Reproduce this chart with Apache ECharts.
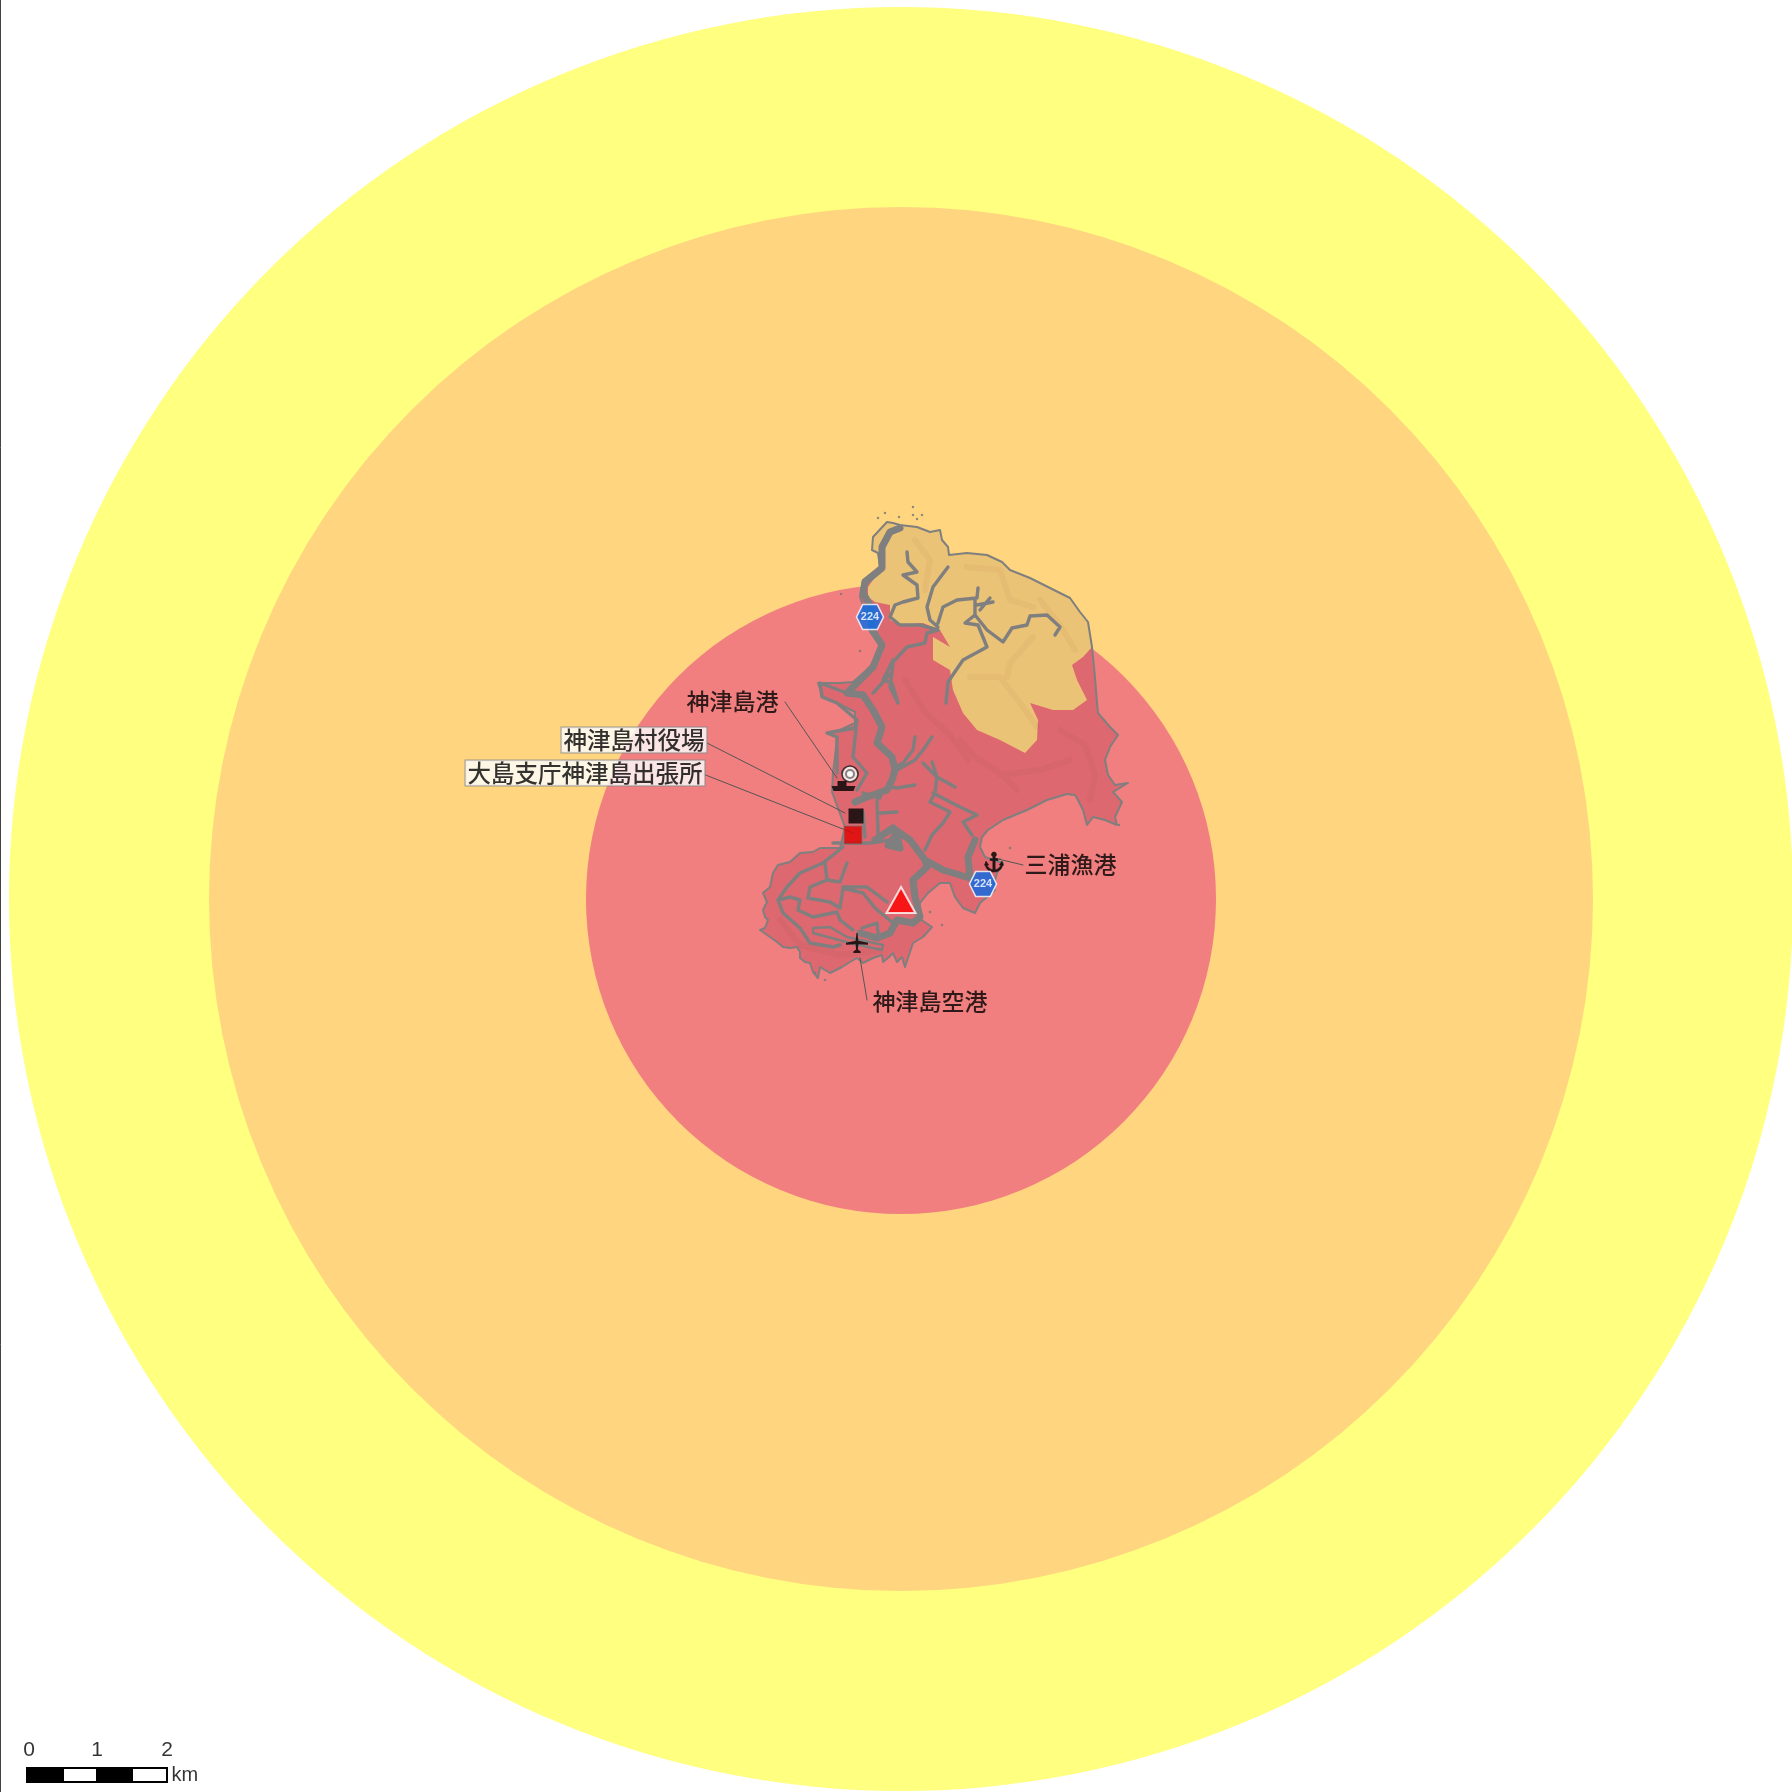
<!DOCTYPE html>
<html>
<head>
<meta charset="utf-8">
<script src="https://cdn.jsdelivr.net/npm/echarts@6/dist/echarts.min.js"></script>
<style>html,body{margin:0;padding:0;background:#fff}</style>
</head>
<body>
<div id="main" style="width:1792px;height:1792px"></div>
<script>
// map coordinates (1 unit = 1 reference pixel, about 69.5 per km)
var crater = [901, 899];
var zoneRadii = [892, 692, 315];

var coastNorth = [[887,522],[893,523],[900,525],[917,527],[930,532],[940,530],[942,540],[948,547],[949,555],[967,553],[987,555],[1002,562],[1010,570],[1030,578],[1050,588],[1070,598],[1080,612],[1088,622],[1092,647]];
var coastEast = [[1095,677],[1097,703],[1098,713],[1110,727],[1118,735],[1110,747],[1105,760],[1108,775],[1115,785],[1128,783],[1113,792],[1122,802],[1115,817],[1117,825],[1105,820],[1093,817],[1087,825],[1083,810],[1078,800],[1075,795],[1067,794],[1047,800],[1027,810],[1003,820],[988,830],[982,837],[980,847],[985,857],[1003,863],[997,873],[993,887],[995,890],[980,903],[975,913],[963,908],[955,897],[950,883],[940,883],[928,893],[920,903],[917,917],[932,927],[923,937],[913,943],[905,967]];
var coastSouth = [[902,957],[897,962],[893,953],[888,958],[883,962],[882,955],[873,958],[863,963],[857,958],[850,962],[842,967],[830,973],[825,970],[820,967],[818,978],[813,972],[810,963],[805,962],[800,958],[800,952],[797,947],[790,948],[783,947],[777,942],[770,937],[760,930],[765,928],[768,920],[765,917],[763,910],[767,902],[763,893],[770,887],[773,873],[778,865],[790,862],[800,853],[813,852],[820,848],[840,848]];
var coastWest = [[845,827],[832,792],[833,773],[835,757],[837,737],[827,733],[840,730],[855,723],[855,712],[837,703],[823,697],[818,683],[840,683],[853,682],[867,670],[870,667],[882,647],[872,630],[860,597],[863,580],[880,567],[878,553],[872,550],[873,537]];
var outerHazardEdge = [[1083,657],[1072,665],[1077,680],[1087,700],[1073,710],[1053,710],[1030,703],[1038,720],[1037,740],[1025,753],[1000,740],[977,730],[963,713],[953,690],[950,670],[933,660],[933,637],[950,647],[940,630],[923,623],[900,625],[890,620],[890,605],[875,602],[868,597],[868,587],[880,570],[878,553],[872,550],[873,537]];

var mainRoads = [
  [[900,528],[890,532],[882,547],[882,568],[865,582],[863,593],[870,605],[872,630],[882,645],[873,667],[857,683],[847,693],[863,695],[873,710],[882,727],[877,743],[892,757],[895,770],[892,780],[887,790],[867,797],[855,802]],
  [[875,840],[893,828],[910,840],[925,860],[943,870],[970,878]],
  [[970,878],[968,857],[975,840]],
  [[893,828],[898,840],[900,848],[888,845]],
  [[925,860],[927,867],[913,880],[915,897],[920,917],[913,923],[897,920],[890,933],[877,938],[860,933]]
];
var minorRoads = [
  [[907,552],[908,562],[917,572],[903,575],[917,585],[918,598],[903,602],[895,605],[890,617],[900,625],[920,625],[938,630],[927,633],[925,643],[907,647],[893,662],[892,672],[885,680],[873,693]],
  [[892,672],[890,687],[898,703]],
  [[948,567],[933,587],[927,607],[930,620],[938,627]],
  [[938,623],[943,607],[957,600],[977,598],[978,588]],
  [[975,600],[975,615],[965,623],[978,625],[987,647],[963,660],[948,682],[946,703]],
  [[975,615],[987,630],[1003,642],[1012,628],[1027,625],[1030,616],[1047,615],[1060,627],[1055,635]],
  [[977,605],[993,602]],[[980,610],[990,598]],
  [[915,737],[913,750],[903,763],[893,768]],
  [[932,737],[923,750],[915,760],[897,770]],
  [[915,785],[897,788],[890,787]],
  [[923,763],[937,777],[955,787]],
  [[932,762],[937,777],[935,793],[930,802],[950,812],[943,823],[932,835],[925,850]],
  [[933,793],[960,807],[977,815],[963,822],[972,835]],
  [[893,660],[883,680],[892,683],[898,703]],
  [[847,693],[820,683],[822,697],[837,703],[857,720],[855,728],[827,733],[837,737],[837,773]],
  [[857,720],[853,757],[867,773],[857,790]],
  [[877,800],[878,833]],[[863,812],[865,837]],[[880,813],[897,812]],
  [[863,793],[880,798],[882,790]],
  [[843,847],[823,863],[800,873],[787,887],[778,900],[783,913],[800,928],[810,943],[833,947],[840,945]],
  [[778,900],[790,897],[800,900],[798,910],[813,917],[837,912],[840,920],[853,930]],
  [[847,863],[840,882],[827,880],[825,863]],
  [[827,880],[810,887],[808,898],[830,902],[840,908],[843,888],[863,893],[875,908],[893,923]],
  [[843,887],[867,887],[887,902]],
  [[862,928],[877,923],[878,933]],
  [[833,843],[870,843],[890,840],[897,830]],
  [[890,840],[900,843],[893,835]]
];
var runway = [[813,928],[830,927],[847,937],[883,945],[882,950],[850,943],[813,933],[813,928]];

// hillshade ridges, drawn faintly over the terrain
var ridgeLines = [
  [[967,567],[1000,570],[1010,600],[1033,607]],
  [[1033,637],[1010,663],[1007,677]],
  [[970,677],[1000,677],[1023,707],[1037,727]],
  [[1040,600],[1060,625],[1075,650]],
  [[915,540],[930,560],[925,590]],
  [[960,740],[975,757],[1000,773],[1017,790]],
  [[1060,730],[1085,745],[1095,775],[1090,800]],
  [[905,680],[925,712],[950,735],[968,760]],
  [[1000,775],[1040,770],[1070,760]],
  [[780,920],[800,945],[840,955],[880,950]]
];
var islets = [[885,513],[899,517],[913,515],[922,515],[913,507],[917,519],[878,518],[841,594],[860,651],[1000,859],[1010,848],[1119,825],[815,973],[825,980],[930,912],[942,925]];

var shieldPoints = [[870,617],[983,884]];
var shieldLabel = '224';
var craterPoint = [901,900];
var airport = [857,943];
var fishingPort = [994,862];
var portCircle = [850,774];
var portShip = [843.5,786];
var villageOffice = [856,816];
var branchOffice = [853,835];

var plainLabels = [['神津島港',[686,701]],['三浦漁港',[1024,864]],['神津島空港',[872,1001]]];
var boxedLabels = [['神津島村役場',[561,740]],['大島支庁神津島出張所',[465,773]]];
var leaders = [
  [[785,702],[837,778]],
  [[705,742],[845,813]],
  [[703,774],[853,833]],
  [[1023,865],[994,858]],
  [[860,958],[867,1000]]
];

var scaleSegments = [[27,63,'#000'],[63,97,'#fff'],[97,132,'#000'],[132,167,'#fff']];
var scaleTop = 1768, scaleBottom = 1782;
var scaleTicks = [['0',[29,1750]],['1',[97,1750]],['2',[167,1750]]];
var scaleUnit = ['km',[171,1775]];

var islandOutline = coastNorth.concat(coastEast, coastSouth, coastWest);
var northTerrain = coastNorth.concat(outerHazardEdge);

function flatten(paths) {
    var out = [];
    paths.forEach(function (p) {
        out = out.concat(p);
        out.push(['-', '-']);
    });
    return out;
}

function lineSeries(paths, color, width, z, blur) {
    return {
        type: 'line', data: flatten(paths), showSymbol: false, silent: true, z: z,
        lineStyle: {color: color, width: width, join: 'round', cap: 'round', shadowBlur: blur || 0, shadowColor: color}
    };
}

function polygonSeries(points, fill, stroke, lineWidth, z) {
    return {
        type: 'custom', silent: true, z: z, data: [0],
        renderItem: function (params, api) {
            return {
                type: 'polygon',
                shape: {points: points.map(function (p) { return api.coord(p); })},
                style: {fill: fill, stroke: stroke, lineWidth: lineWidth, lineJoin: 'round'}
            };
        }
    };
}

function zoneSeries() {
    var colors = ['#ffff80', '#ffd580', '#f17f7f'];
    return {
        type: 'custom', silent: true, z: 1, clip: true, data: zoneRadii,
        renderItem: function (params, api) {
            var c = api.coord(crater);
            return {
                type: 'circle',
                shape: {cx: c[0], cy: c[1], r: api.size([api.value(0), 0])[0]},
                style: {fill: colors[params.dataIndex]}
            };
        },
        encode: {x: 0}
    };
}

function symbolSeries(point, symbol, size, style, z) {
    return {
        type: 'scatter', silent: true, z: z, data: [point], symbol: symbol, symbolSize: size,
        itemStyle: style
    };
}

function textSeries(items, font, z, extra) {
    return {
        type: 'scatter', silent: true, z: z, symbolSize: 1, itemStyle: {color: 'transparent'},
        data: items.map(function (t) { return {name: t[0], value: t[1]}; }),
        label: Object.assign({
            show: true, position: 'right', distance: 0, color: '#000',
            formatter: '{b}', fontFamily: 'Noto Sans CJK JP', fontSize: font, fontWeight: 500
        }, extra || {})
    };
}

var planePath = 'path://M10 0 L11 0 L11.8 8 L21 10 L21 12 L11.8 11.5 L11.4 17 L14 19 L14 20.5 L7 20.5 L7 19 L9.6 17 L9.2 11.5 L0 12 L0 10 L9.2 8 Z';
var anchorPath = 'path://M10 0 A2.6 2.6 0 0 1 11.2 4.9 L11.2 7 L14 7 L14 9 L11.2 9 L11.2 18.6 C14.5 18.2 16.8 16 17.4 13 L15.6 13.6 L18.4 9.6 L20 14 L19.2 13.4 C18.4 18 15 21 10 21 C5 21 1.6 18 .8 13.4 L0 14 L1.6 9.6 L4.4 13.6 L2.6 13 C3.2 16 5.5 18.2 8.8 18.6 L8.8 9 L6 9 L6 7 L8.8 7 L8.8 4.9 A2.6 2.6 0 0 1 10 0 Z';
var hexPath = 'path://M6 0 H20 L26 12 L20 24 H6 L0 12 Z';
var shipPath = 'path://M6 0 H15 V5 H24 L22 10 H2 L0 5 H6 Z';

var series = [
    zoneSeries(),
    polygonSeries(islandOutline, '#dd6870', 'none', 0, 3),
    polygonSeries(northTerrain, '#ebc377', 'none', 0, 4),
    lineSeries(ridgeLines, 'rgba(110,50,30,0.05)', 6, 5, 6),
    polygonSeries(islandOutline, 'none', '#7f7f7f', 2, 5),
    lineSeries(minorRoads, '#7f7f7f', 3.4, 6),
    lineSeries([runway], '#7f7f7f', 2.4, 6),
    lineSeries(mainRoads, '#7f7f7f', 7, 7),
    lineSeries(leaders, '#555', 1, 8),
    {
        type: 'scatter', silent: true, z: 3, data: islets, symbolSize: 2.5,
        itemStyle: {color: '#777'}
    },
    symbolSeries(villageOffice, 'rect', 15, {color: '#000'}, 9),
    symbolSeries(branchOffice, 'rect', 18, {color: '#e00000', borderColor: '#777', borderWidth: 1}, 10),
    symbolSeries(craterPoint, 'triangle', [29, 26], {color: '#ff0000', borderColor: '#fff', borderWidth: 2}, 10),
    symbolSeries(airport, planePath, [22, 20], {color: '#000'}, 10),
    symbolSeries(fishingPort, anchorPath, [19, 20], {color: '#000', borderColor: '#000', borderWidth: 0.6}, 10),
    symbolSeries(portCircle, 'circle', 16, {color: '#fff', borderColor: '#111', borderWidth: 1.6}, 10),
    symbolSeries(portCircle, 'circle', 8, {color: '#fff', borderColor: '#666', borderWidth: 2}, 11),
    symbolSeries(portShip, shipPath, [24, 10], {color: '#000'}, 10),
    {
        type: 'scatter', silent: true, z: 11, data: shieldPoints, symbol: hexPath, symbolSize: [27, 25],
        itemStyle: {color: '#0a6ae8', borderColor: '#fff', borderWidth: 1.5},
        label: {
            show: true, position: 'inside', formatter: shieldLabel, color: '#fff',
            fontFamily: 'Liberation Sans', fontWeight: 'bold', fontSize: 11
        }
    },
    textSeries(plainLabels, 23, 12),
    textSeries(boxedLabels, 23.5, 12, {
        backgroundColor: '#fff', borderColor: '#888', borderWidth: 1, padding: [0, 2, 1, 2], lineHeight: 24
    }),
    {
        type: 'custom', silent: true, z: 12, data: scaleSegments,
        renderItem: function (params, api) {
            var seg = scaleSegments[params.dataIndex];
            var a = api.coord([seg[0], scaleTop]), b = api.coord([seg[1], scaleBottom]);
            return {
                type: 'rect',
                shape: {x: a[0], y: a[1], width: b[0] - a[0], height: b[1] - a[1]},
                style: {fill: seg[2], stroke: '#000', lineWidth: 2}
            };
        }
    },
    textSeries(scaleTicks, 21, 12, {position: 'inside', fontFamily: 'Liberation Sans', fontWeight: 'normal'}),
    textSeries([scaleUnit], 20, 12, {fontFamily: 'Liberation Sans', fontWeight: 'normal'}),
    lineSeries([[[0.5, 0], [0.5, 1792]]], '#444', 1, 12)
];

var option = {
    animation: false,
    backgroundColor: '#fff',
    grid: {left: 0, right: 0, top: 0, bottom: 0},
    xAxis: {type: 'value', min: 0, max: 1792, show: false},
    yAxis: {type: 'value', min: 0, max: 1792, inverse: true, show: false},
    series: series
};

var myChart = echarts.init(document.getElementById('main'));
myChart.setOption(option);
</script>
</body>
</html>
